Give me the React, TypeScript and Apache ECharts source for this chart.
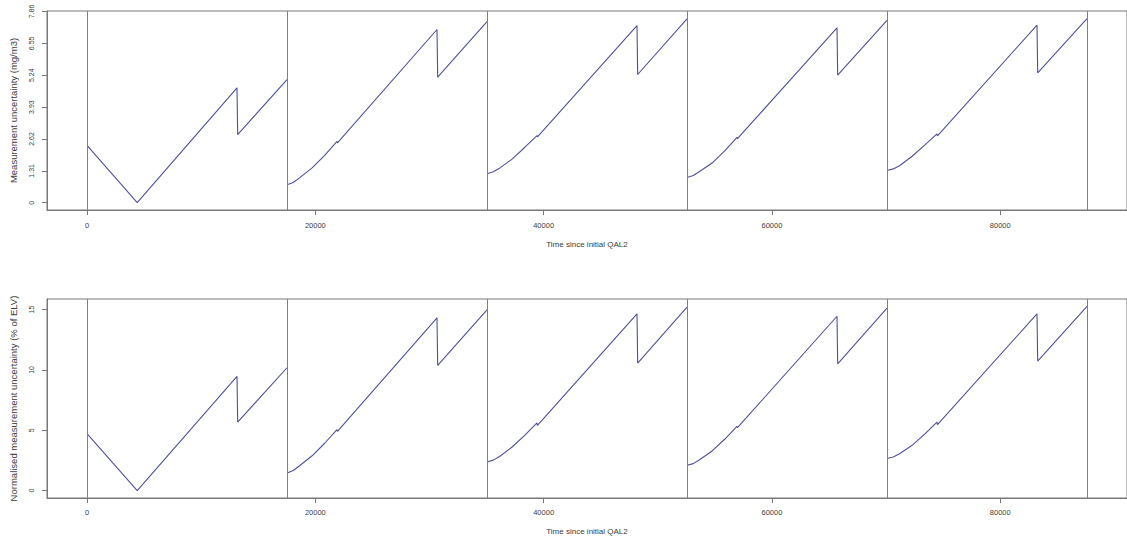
import React, { useEffect, useRef } from "react";
import * as echarts from "echarts";

// Hours since initial QAL2 at which each 2-year block starts
const blockStarts = [0, 17520, 35040, 52560, 70080];
const blockBoundaries = [0, 17520, 35040, 52560, 70080, 87600];

// Time offsets (hours within a block) of the read points
const firstBlockOffsets = [0, 4400, 13140, 13200, 17520];
const blockOffsets = [0, 550, 1100, 2200, 3300, 4380, 4420, 13140, 13200, 17520];

// Measurement uncertainty (mg/m3), one list per block
const uncBlock1 = [2.36, 0.0, 4.72, 2.8, 5.06];
const uncBlock2 = [0.74, 0.83, 1.02, 1.43, 1.95, 2.52, 2.46, 7.12, 5.16, 7.44];
const uncBlock3 = [1.19, 1.27, 1.42, 1.79, 2.27, 2.76, 2.71, 7.28, 5.27, 7.56];
const uncBlock4 = [1.04, 1.12, 1.28, 1.63, 2.13, 2.69, 2.63, 7.19, 5.24, 7.49];
const uncBlock5 = [1.32, 1.39, 1.52, 1.91, 2.37, 2.83, 2.75, 7.3, 5.34, 7.57];

// Normalised measurement uncertainty (% of ELV), one list per block
const normBlock1 = [4.72, 0.0, 9.46, 5.68, 10.18];
const normBlock2 = [1.46, 1.66, 2.05, 2.88, 3.92, 5.05, 4.91, 14.32, 10.37, 14.98];
const normBlock3 = [2.37, 2.52, 2.82, 3.61, 4.57, 5.6, 5.41, 14.65, 10.57, 15.2];
const normBlock4 = [2.09, 2.23, 2.55, 3.28, 4.25, 5.32, 5.21, 14.45, 10.51, 15.12];
const normBlock5 = [2.65, 2.78, 3.05, 3.75, 4.68, 5.68, 5.46, 14.65, 10.73, 15.26];

// Axis ticks
const xTicks = [0, 20000, 40000, 60000, 80000];
const yTicksTop = [0, 1.31, 2.62, 3.93, 5.24, 6.55, 7.86];
const yTicksBottom = [0, 5, 10, 15];

const xTitle = "Time since initial QAL2";
const yTitleTop = "Measurement uncertainty (mg/m3)";
const yTitleBottom = "Normalised measurement uncertainty (% of ELV)";

const uncBlocks = [uncBlock1, uncBlock2, uncBlock3, uncBlock4, uncBlock5];
const normBlocks = [normBlock1, normBlock2, normBlock3, normBlock4, normBlock5];

const LINE = "#50509a";
const AXIS = "#787878";
const TEXT = "#3c3c3c";
const FONT = "Liberation Sans, Arial, sans-serif";

function blockData(blockIdx: number, values: number[]) {
  const offs = blockIdx === 0 ? firstBlockOffsets : blockOffsets;
  return values.map((v, i) => [blockStarts[blockIdx] + offs[i], v]);
}

export default function App() {
  const ref = useRef<HTMLDivElement>(null);

  useEffect(() => {
    if (!ref.current) return;
    const chart = echarts.init(ref.current, null, { renderer: "svg" });

    const makeX = (gridIndex: number, margin: number, nameGap: number) => ({
      type: "value",
      gridIndex,
      min: -3504,
      max: 91104,
      name: xTitle,
      nameLocation: "middle",
      nameGap,
      nameTextStyle: { color: TEXT, fontSize: 8, fontFamily: FONT },
      axisLine: { show: true, onZero: false, lineStyle: { color: AXIS, width: 1 } },
      axisTick: {
        show: true,
        length: 5,
        customValues: xTicks,
        lineStyle: { color: AXIS, width: 1 },
      },
      axisLabel: {
        show: true,
        customValues: xTicks,
        margin,
        color: TEXT,
        fontSize: 7.5,
        fontFamily: FONT,
        formatter: (v: number) => String(v),
      },
      splitLine: { show: false },
    });

    const makeY = (
      gridIndex: number,
      min: number,
      max: number,
      ticks: number[],
      title: string
    ) => ({
      type: "value",
      gridIndex,
      min,
      max,
      name: title,
      nameLocation: "middle",
      nameRotate: 90,
      nameGap: 29,
      nameTextStyle: { color: TEXT, fontSize: 9.5, fontFamily: FONT },
      axisLine: { show: true, onZero: false, lineStyle: { color: AXIS, width: 1 } },
      axisTick: {
        show: true,
        length: 5,
        customValues: ticks,
        lineStyle: { color: AXIS, width: 1 },
      },
      axisLabel: {
        show: true,
        customValues: ticks,
        rotate: 90,
        margin: 12,
        color: TEXT,
        fontSize: 7,
        fontFamily: FONT,
        formatter: (v: number) => String(v),
      },
      splitLine: { show: false },
    });

    const markLine = {
      silent: true,
      symbol: ["none", "none"],
      label: { show: false },
      lineStyle: { color: "#808080", width: 1, type: "solid" },
      data: blockBoundaries.map((b) => ({ xAxis: b })),
    };

    const series: any[] = [];
    uncBlocks.forEach((vals, i) => {
      series.push({
        type: "line",
        xAxisIndex: 0,
        yAxisIndex: 0,
        data: blockData(i, vals),
        showSymbol: false,
        symbol: "none",
        lineStyle: { color: LINE, width: 1.1 },
        itemStyle: { color: LINE },
        z: 2,
        ...(i === 0 ? { markLine } : {}),
      });
    });
    normBlocks.forEach((vals, i) => {
      series.push({
        type: "line",
        xAxisIndex: 1,
        yAxisIndex: 1,
        data: blockData(i, vals),
        showSymbol: false,
        symbol: "none",
        lineStyle: { color: LINE, width: 1.1 },
        itemStyle: { color: LINE },
        z: 2,
        ...(i === 0 ? { markLine } : {}),
      });
    });

    chart.setOption({
      animation: false,
      backgroundColor: "#ffffff",
      grid: [
        {
          left: 46,
          right: -6,
          top: 11,
          height: 199,
          show: true,
          borderColor: AXIS,
          borderWidth: 1,
          backgroundColor: "transparent",
        },
        {
          left: 46,
          right: -6,
          top: 299,
          height: 199,
          show: true,
          borderColor: AXIS,
          borderWidth: 1,
          backgroundColor: "transparent",
        },
      ],
      xAxis: [makeX(0, 11, 30), makeX(1, 10, 29)],
      yAxis: [
        makeY(0, -0.3, 7.88, yTicksTop, yTitleTop),
        makeY(1, -0.62, 15.88, yTicksBottom, yTitleBottom),
      ],
      series,
    });

    return () => chart.dispose();
  }, []);

  return (
    <div
      ref={ref}
      style={{ position: "fixed", left: 0, top: 0, width: 1127, height: 538 }}
    />
  );
}
